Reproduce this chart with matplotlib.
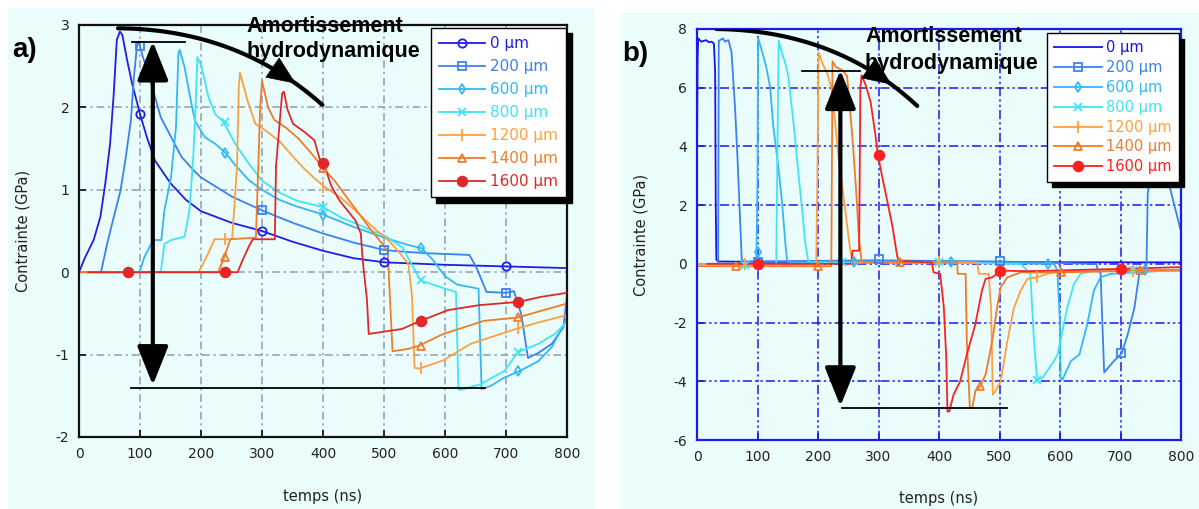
import numpy as np
import matplotlib
matplotlib.use("Agg")
from matplotlib import pyplot as plt
from matplotlib.lines import Line2D
from matplotlib.patches import Rectangle, FancyArrowPatch

plt.rcParams['axes.unicode_minus'] = False

W, H = 1199, 509

labels = ['0 µm', '200 µm', '600 µm', '800 µm', '1200 µm', '1400 µm', '1600 µm']
colors_a = ['#1e1ee8', '#3a82f0', '#34b8f4', '#40e4f4', '#ffa040', '#f07c28', '#e02828']
colors_b = ['#1414f0', '#3a82f0', '#34b8f4', '#40e4f4', '#ffa040', '#f07c28', '#ff2020']

# ---------------- panel a) data (temps ns, contrainte GPa) ----------------
a0_t = [0, 10, 24, 35, 43, 51, 57, 62, 67, 71, 79, 87, 100, 112, 125, 150, 175, 200, 250, 300, 350, 400, 450, 500, 600, 700, 800]
a0_v = [0, 0.18, 0.39, 0.67, 1.07, 1.56, 2.17, 2.82, 2.92, 2.88, 2.57, 2.29, 1.92, 1.62, 1.35, 1.08, 0.88, 0.74, 0.6, 0.5, 0.37, 0.26, 0.17, 0.12, 0.09, 0.07, 0.05]

a200_t = [0, 36, 46, 57, 68, 76, 85, 90, 95, 98, 104, 112, 123, 134, 151, 168, 190, 200, 250, 300, 350, 400, 450, 500, 530, 570, 640, 652, 668, 700, 713, 725, 736, 753, 775, 794, 800]
a200_v = [0, 0, 0.34, 0.67, 0.99, 1.36, 1.84, 2.37, 2.74, 2.8, 2.63, 2.45, 2.17, 1.88, 1.64, 1.40, 1.22, 1.15, 0.92, 0.75, 0.6, 0.47, 0.36, 0.27, 0.25, 0.23, 0.21, 0.05, -0.24, -0.25, -0.23, -0.51, -1.04, -0.98, -0.87, -0.67, -0.28]

a600_t = [0, 99, 107, 118, 125, 135, 140, 151, 159, 163, 165, 173, 181, 190, 206, 223, 240, 256, 278, 300, 328, 356, 400, 450, 500, 540, 562, 580, 600, 620, 655, 660, 675, 697, 722, 753, 775, 797, 800]
a600_v = [0, 0, 0.18, 0.34, 0.39, 0.39, 0.75, 1.16, 1.76, 2.66, 2.70, 2.49, 2.17, 1.84, 1.64, 1.56, 1.45, 1.30, 1.12, 1.0, 0.88, 0.8, 0.7, 0.55, 0.42, 0.33, 0.29, 0.15, -0.05, -0.15, -0.2, -1.42, -1.38, -1.28, -1.2, -1.08, -0.91, -0.6, -0.55]

a800_t = [0, 134, 140, 151, 173, 181, 187, 191, 194, 201, 212, 223, 237, 256, 278, 300, 328, 356, 400, 433, 455, 480, 500, 530, 545, 560, 580, 600, 618, 622, 625, 658, 697, 720, 753, 780, 800]
a800_v = [0, 0, 0.34, 0.39, 0.43, 0.75, 1.36, 1.97, 2.61, 2.49, 2.13, 1.92, 1.82, 1.56, 1.32, 1.11, 0.97, 0.87, 0.79, 0.65, 0.59, 0.5, 0.45, 0.3, 0.1, -0.1, -0.15, -0.2, -0.24, -1.42, -1.43, -1.36, -1.2, -0.97, -0.87, -0.75, -0.6]

a1200_t = [0, 196, 212, 222, 251, 259, 262, 264, 276, 289, 300, 313, 330, 351, 370, 389, 402, 428, 453, 481, 507, 524, 540, 546, 550, 558, 597, 642, 720, 753, 800]
a1200_v = [0, 0, 0.23, 0.40, 0.40, 1.28, 2.25, 2.42, 2.09, 1.80, 1.75, 1.68, 1.58, 1.40, 1.25, 1.12, 1.04, 0.91, 0.75, 0.55, 0.39, 0.25, 0.1, -0.3, -1.16, -1.17, -1.07, -0.87, -0.68, -0.61, -0.52]

a1400_t = [0, 228, 238, 248, 290, 294, 297, 300, 310, 320, 340, 360, 380, 400, 420, 440, 460, 480, 500, 506, 511, 514, 540, 558, 597, 664, 719, 800]
a1400_v = [0, 0, 0.18, 0.4, 0.42, 1.3, 2.0, 2.32, 2.0, 1.85, 1.75, 1.62, 1.45, 1.27, 1.1, 0.9, 0.7, 0.5, 0.32, 0.25, -0.5, -0.96, -0.93, -0.89, -0.75, -0.59, -0.55, -0.38]

a1600_t = [15, 260, 269, 279, 285, 321, 323, 333, 336, 342, 351, 370, 386, 395, 401, 414, 427, 440, 453, 462, 465, 472, 475, 510, 529, 560, 605, 656, 721, 757, 800]
a1600_v = [0, 0, 0.16, 0.32, 0.4, 0.4, 1.29, 2.17, 2.19, 1.97, 1.8, 1.7, 1.6, 1.36, 1.32, 1.04, 0.87, 0.75, 0.63, 0.47, 0.15, -0.33, -0.75, -0.71, -0.69, -0.59, -0.46, -0.40, -0.36, -0.30, -0.25]

# markers of panel a)
a0_mt, a0_mv = [100, 300, 500, 700], [1.92, 0.5, 0.12, 0.07]
a200_mt, a200_mv = [100, 300, 500, 700], [2.75, 0.75, 0.27, -0.25]
a600_mt, a600_mv = [240, 400, 560, 720], [1.45, 0.70, 0.29, -1.2]
a800_mt, a800_mv = [240, 400, 560, 720], [1.82, 0.79, -0.1, -0.97]
a1200_mt, a1200_mv = [240, 400, 560, 720], [0.4, 1.04, -1.16, -0.68]
a1400_mt, a1400_mv = [240, 400, 560, 720], [0.19, 1.27, -0.9, -0.54]
a1600_mt, a1600_mv = [80, 240, 400, 560, 720], [0, 0, 1.32, -0.59, -0.36]

# ---------------- panel b) data ----------------
b0_t = [0, 1, 2, 7, 15, 20, 24, 28, 30, 31, 32, 35, 100, 400, 800]
b0_v = [3.7, 7.0, 7.68, 7.57, 7.62, 7.55, 7.57, 7.5, 6.5, 2.0, 0.14, 0.08, 0.07, 0.06, 0.05]

b200_t = [0, 35, 36, 38, 43, 46, 52, 57, 63, 67, 71, 74, 77, 300, 500, 660, 663, 667, 670, 673, 689, 702, 712, 723, 731, 740, 743, 745, 750, 778, 800]
b200_v = [0, 0, 7.6, 7.62, 7.68, 7.57, 7.62, 7.22, 5.28, 3.57, 1.62, 0.14, 0.08, 0.12, 0.08, 0.0, -0.25, -0.3, -2.0, -3.7, -3.31, -3.05, -2.4, -1.49, -0.34, -0.1, -0.05, 2.4, 3.0, 2.9, 1.1]

b600_t = [0, 98, 100, 101, 108, 115, 121, 126, 135, 141, 146, 149, 155, 400, 590, 593, 596, 600, 601, 604, 618, 632, 645, 656, 667, 684, 800]
b600_v = [0, 0, 3.0, 7.7, 7.2, 6.65, 6.0, 4.7, 3.2, 2.0, 0.7, 0.1, 0.05, 0.05, 0.0, -0.1, -0.34, -2.06, -3.89, -3.94, -3.31, -3.09, -2.06, -0.91, -0.46, -0.34, -0.2]

b800_t = [0, 131, 133, 135, 140, 145, 151, 160, 168, 174, 179, 184, 190, 400, 535, 551, 557, 562, 571, 590, 596, 612, 623, 634, 656, 800]
b800_v = [0, 0, 4.0, 7.6, 7.2, 6.9, 6.4, 4.7, 3.0, 1.8, 0.7, 0.1, 0.05, 0.05, 0.0, -0.34, -2.63, -3.94, -3.89, -3.31, -3.09, -1.49, -0.69, -0.34, -0.23, -0.2]

b1200_t = [0, 197, 199, 201, 208, 215, 222, 228, 234, 240, 247, 253, 257, 260, 463, 466, 482, 486, 489, 493, 502, 513, 524, 535, 546, 562, 579, 600, 800]
b1200_v = [0, 0, 3.0, 7.2, 6.8, 6.5, 6.0, 4.9, 3.6, 2.64, 1.5, 0.5, 0.1, 0.05, 0.05, -0.34, -0.34, -1.49, -4.46, -4.34, -4.0, -2.63, -1.49, -0.91, -0.51, -0.46, -0.34, -0.25, -0.25]

b1400_t = [0, 222, 224, 230, 240, 248, 252, 258, 263, 268, 272, 276, 430, 431, 444, 446, 451, 455, 460, 468, 477, 488, 496, 502, 513, 535, 601, 800]
b1400_v = [-0.08, -0.08, 6.9, 6.7, 6.6, 6.4, 5.5, 4.0, 2.5, 0.8, 0.1, 0.05, 0.05, -0.34, -0.34, -2.63, -4.91, -4.91, -4.34, -4.17, -3.77, -2.63, -1.49, -0.8, -0.46, -0.29, -0.29, -0.2]

b1600_t = [17, 255, 257, 268, 270, 272, 279, 287, 295, 299, 307, 315, 323, 331, 334, 388, 391, 402, 408, 412, 414, 417, 424, 435, 446, 460, 471, 477, 488, 502, 546, 702, 800]
b1600_v = [0, 0, 0.45, 0.45, 6.0, 6.42, 6.08, 5.51, 4.37, 3.71, 2.88, 2.08, 1.28, 0.25, 0.1, 0.05, -0.29, -0.34, -1.49, -3.2, -5.03, -5.03, -4.46, -4.0, -3.09, -2.06, -0.91, -0.51, -0.46, -0.23, -0.25, -0.17, -0.11]

b200_mt, b200_mv = [100, 300, 500, 700], [0.08, 0.16, 0.1, -3.05]
b600_mt, b600_mv = [100, 260, 420, 580, 740], [0.42, 0.05, 0.05, 0.0, -0.2]
b800_mt, b800_mv = [80, 240, 400, 562, 720], [-0.03, 0.05, 0.06, -3.94, -0.2]
b1200_mt, b1200_mv = [80, 240, 400, 562, 720], [0.0, 2.64, 0.05, -0.46, -0.25]
b1400_mt, b1400_mv = [65, 200, 335, 468, 601, 733], [-0.09, -0.09, 0.05, -4.17, -0.29, -0.2]
b1600_mt, b1600_mv = [100, 300, 500, 700], [0.0, 3.7, -0.23, -0.17]

# marker styles: (marker, size, filled)
mstyle = [('o', 6, False), ('s', 6, False), ('d', 5, False), ('x', 6, True),
          ('|', 9, True), ('^', 6, False), ('o', 7, True)]

bg = '#eafcfc'

fig = plt.figure(figsize=(W / 100, H / 100), dpi=100)
fig.patch.set_facecolor('white')
fig.patches.append(Rectangle((8 / W, 1 - 508 / H), 585 / W, 500 / H,
                             transform=fig.transFigure, color=bg, zorder=-5))
fig.patches.append(Rectangle((621 / W, 0), (W - 621) / W, 1 - 13 / H,
                             transform=fig.transFigure, color=bg, zorder=-5))


def px_axes(l, t, r, b):
    return fig.add_axes([l / W, 1 - b / H, (r - l) / W, (b - t) / H])


def draw_series(ax, series, marks, colors, first_plain=False):
    handles = []
    for i, ((t, v), (mt, mv)) in enumerate(zip(series, marks)):
        c = colors[i]
        m, ms, filled = mstyle[i]
        ax.plot(t, v, color=c, lw=1.3, zorder=2 + i * 0.1)
        if mt is not None:
            ax.plot(mt, mv, ls='none', marker=m, ms=ms, color=c,
                    mfc=c if filled else 'none', mew=1.3, zorder=3)
        if first_plain and i == 0:
            handles.append(Line2D([], [], color=c, lw=1.3))
        else:
            handles.append(Line2D([], [], color=c, lw=1.3, marker=m, ms=ms,
                                  mfc=c if filled else 'none', mew=1.3))
    return handles


def style_axes(ax, edge, gridc, gridls):
    ax.set_facecolor(bg)
    for s in ax.spines.values():
        s.set_color(edge)
        s.set_linewidth(1.6)
    ax.grid(True, color=gridc, ls=gridls, lw=1.1)
    ax.set_axisbelow(True)
    ax.tick_params(direction='in', length=5, width=1.2, color=edge,
                   labelsize=10, labelcolor='#222222', pad=7)
    ax.set_xlim(0, 800)
    ax.set_xticks(range(0, 801, 100))
    ax.set_xlabel('temps (ns)', fontsize=10.5, color='#222222', labelpad=20)
    ax.set_ylabel('Contrainte (GPa)', fontsize=10.5, color='#222222', labelpad=18)


def curved_arrow(ax, p0, p1, p2, t_tip):
    # quadratic Bezier guide curve of the annotation, arrow head part way along
    s = np.linspace(0, 1, 60)[:, None]
    p0, p1, p2 = map(np.asarray, (p0, p1, p2))
    pts = (1 - s) ** 2 * p0 + 2 * s * (1 - s) * p1 + s ** 2 * p2
    ax.plot(pts[:, 0], pts[:, 1], color='k', lw=3, zorder=6,
            solid_capstyle='round')
    k = int(t_tip * 59)
    ax.add_patch(FancyArrowPatch(tuple(pts[k - 3]), tuple(pts[k]),
                                 arrowstyle='-|>,head_length=1.4,head_width=0.6',
                                 mutation_scale=14, lw=0.5, color='k', zorder=7,
                                 shrinkA=0, shrinkB=0))


def double_arrow(ax, x, y0, y1):
    ax.add_patch(FancyArrowPatch((x, y0), (x, y1),
                                 arrowstyle='<|-|>,head_length=1.5,head_width=0.6',
                                 mutation_scale=16, lw=3, color='k', zorder=6,
                                 shrinkA=0, shrinkB=0))


# ---------------- panel a ----------------
ax1 = px_axes(79, 25, 567, 437)
style_axes(ax1, '#111111', '#8f9db3', (0, (5, 2.5, 1.5, 2.5)))
ax1.set_ylim(-2, 3)
ax1.set_yticks([-2, -1, 0, 1, 2, 3])

series_a = [(a0_t, a0_v), (a200_t, a200_v), (a600_t, a600_v), (a800_t, a800_v),
            (a1200_t, a1200_v), (a1400_t, a1400_v), (a1600_t, a1600_v)]
marks_a = [(a0_mt, a0_mv), (a200_mt, a200_mv), (a600_mt, a600_mv), (a800_mt, a800_mv),
           (a1200_mt, a1200_mv), (a1400_mt, a1400_mv), (a1600_mt, a1600_mv)]
ha = draw_series(ax1, series_a, marks_a, colors_a)

ax1.plot([87, 174], [2.79, 2.79], color='k', lw=1.3, zorder=5)
ax1.plot([85, 665], [-1.41, -1.41], color='k', lw=1.3, zorder=5)
double_arrow(ax1, 121, 2.80, -1.37)
curved_arrow(ax1, (64, 2.96), (260, 2.95), (399, 2.03), 0.85)

leg = ax1.legend(ha, labels, loc='upper right', bbox_to_anchor=(0.998, 0.993),
                 borderaxespad=0, fontsize=11, labelcolor='linecolor',
                 handlelength=3.0, handletextpad=0.3, labelspacing=0.52,
                 borderpad=0.55, fancybox=False, framealpha=1, edgecolor='k',
                 shadow={'color': 'k', 'alpha': 1, 'ox': 4, 'oy': -4})
leg.get_frame().set_linewidth(1.0)
leg.set_zorder(10)

# ---------------- panel b ----------------
ax2 = px_axes(697, 29, 1181, 440)
style_axes(ax2, '#1a1af0', '#1a1af0', (0, (6, 2, 1.5, 2, 1.5, 2)))
ax2.set_ylim(-6, 8)
ax2.set_yticks([-6, -4, -2, 0, 2, 4, 6, 8])

series_b = [(b0_t, b0_v), (b200_t, b200_v), (b600_t, b600_v), (b800_t, b800_v),
            (b1200_t, b1200_v), (b1400_t, b1400_v), (b1600_t, b1600_v)]
marks_b = [(None, None), (b200_mt, b200_mv), (b600_mt, b600_mv), (b800_mt, b800_mv),
           (b1200_mt, b1200_mv), (b1400_mt, b1400_mv), (b1600_mt, b1600_mv)]
hb = draw_series(ax2, series_b, marks_b, colors_b, first_plain=True)

ax2.plot([174, 269], [6.56, 6.56], color='k', lw=1.3, zorder=5)
ax2.plot([240, 512], [-4.92, -4.92], color='k', lw=1.3, zorder=5)
double_arrow(ax2, 237, 6.6, -4.85)
curved_arrow(ax2, (32, 8.0), (230, 7.95), (364, 5.38), 0.85)

leg2 = ax2.legend(hb, labels, loc='upper right', bbox_to_anchor=(0.995, 0.99),
                  borderaxespad=0, fontsize=10.5, labelcolor='linecolor',
                  handlelength=3.3, handletextpad=0.25, labelspacing=0.33,
                  borderpad=0.5, fancybox=False, framealpha=1, edgecolor='k',
                  shadow={'color': 'k', 'alpha': 1, 'ox': 4, 'oy': -4})
leg2.get_frame().set_linewidth(1.0)
leg2.set_zorder(10)

# ---------------- texts ----------------
tkw = dict(fontfamily='Liberation Sans', fontweight='bold', color='k', zorder=20)
fig.text(12 / W, 1 - 50 / H, 'a)', fontsize=20, va='center', ha='left', **tkw)
fig.text(622 / W, 1 - 54 / H, 'b)', fontsize=20, va='center', ha='left', **tkw)
fig.text(246 / W, 1 - 26 / H, 'Amortissement', fontsize=15.5, va='center', ha='left', **tkw)
fig.text(246 / W, 1 - 51 / H, 'hydrodynamique', fontsize=15.5, va='center', ha='left', **tkw)
fig.text(865 / W, 1 - 37 / H, 'Amortissement', fontsize=15.5, va='center', ha='left', **tkw)
fig.text(865 / W, 1 - 63 / H, 'hydrodynamique', fontsize=15.5, va='center', ha='left', **tkw)

fig.savefig('out.png', dpi=100, facecolor=fig.get_facecolor())
